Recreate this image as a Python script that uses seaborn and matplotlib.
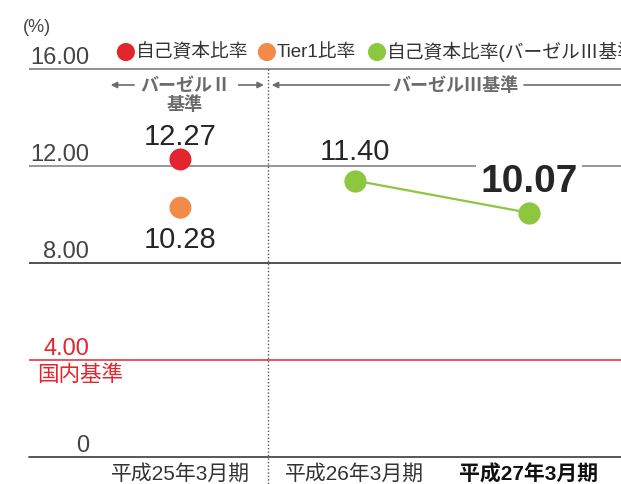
import numpy as np
import pandas as pd
import seaborn as sns
import matplotlib.pyplot as plt

# data
periods = ['平成25年3月期', '平成26年3月期', '平成27年3月期']
capital_ratio = [12.27, np.nan, np.nan]      # 自己資本比率
tier1_ratio = [10.28, np.nan, np.nan]        # Tier1比率
basel3_ratio = [np.nan, 11.40, 10.07]        # 自己資本比率(バーゼルⅢ基準)
yticks = [16, 12, 8, 4, 0]
ytick_labels = ['16.00', '12.00', '8.00', '4.00', '0']
domestic_standard = 4.00

RED = '#e3262e'
ORANGE = '#f28a48'
GREEN = '#8dc63f'
GRAY = '#6b6b6b'
TXT = '#262626'
CJK = ['Noto Sans CJK JP', 'DejaVu Sans']

sns.set_theme(style='white')
plt.rcParams['font.family'] = ['Liberation Sans', 'Noto Sans CJK JP', 'DejaVu Sans']

df = pd.DataFrame({'pos': np.arange(len(periods)), 'period': periods,
                   'capital': capital_ratio, 'tier1': tier1_ratio,
                   'basel3': basel3_ratio})

fig = plt.figure(figsize=(6.21, 4.84), dpi=100)
ax = fig.add_axes([29 / 621, 27 / 484, 592 / 621, 457 / 484])
ax.set_xlim(-0.869, 2.528)
ax.set_ylim(0, 457 / 24.25)
for s in ax.spines.values():
    s.set_visible(False)

# grid lines
grid_colors = {16: '#7d7d7d', 12: '#858585', 8: '#333333'}
for v, c in grid_colors.items():
    ax.axhline(v, color=c, lw=1.2, zorder=1)
ax.axhline(domestic_standard, color=RED, lw=1.1, zorder=1)
ax.axhline(0, color='#4a4a4a', lw=1.3, zorder=1, clip_on=False)

# y labels sitting above the lines
for v, lab in zip(yticks, ytick_labels):
    col = RED if v == domestic_standard else '#444444'
    ax.text(-0.525, v + 0.2, lab, ha='right', va='baseline', fontsize=17, color=col)
ax.text(-0.904, 17.73, '(%)', ha='left', va='center', fontsize=13, color='#444444',
        clip_on=False)
ax.text(-0.824, 3.38, '国内基準', ha='left', va='center', fontsize=15.5, color=RED)

# basel II / III divider
ax.plot([0.5, 0.5], [16, -1.12], ls=(0, (1, 1.5)), color='#555555', lw=1.0,
        clip_on=False, zorder=2)

# points
sns.scatterplot(data=df, x='pos', y='capital', color=RED, s=250, edgecolor='none',
                zorder=5, ax=ax)
sns.scatterplot(data=df, x='pos', y='tier1', color=ORANGE, s=250, edgecolor='none',
                zorder=5, ax=ax)
sns.lineplot(data=df.dropna(subset=['basel3']), x='pos', y='basel3', color=GREEN,
             lw=1.6, marker='o', markersize=16, markeredgewidth=0, zorder=5, ax=ax)

# value labels
ax.text(0, 12.87, f'{capital_ratio[0]:.2f}', ha='center', va='baseline', fontsize=21,
        color=TXT)
ax.text(0, 8.62, f'{tier1_ratio[0]:.2f}', ha='center', va='baseline', fontsize=21,
        color=TXT)
ax.text(1, 12.25, f'{basel3_ratio[1]:.2f}', ha='center', va='baseline', fontsize=21,
        color=TXT)
ax.text(2.0, 10.93, f'{basel3_ratio[2]:.2f}', ha='center', va='baseline', fontsize=28,
        fontweight='bold', color=TXT, zorder=3,
        bbox=dict(facecolor='white', edgecolor='none', pad=3))

# legend row
leg_y = 16.70
legend_items = [(-0.313, RED, '自己資本比率'), (0.496, ORANGE, 'Tier1比率'),
                (1.128, GREEN, '自己資本比率(バーゼルⅢ基準)')]
for lx, c, lab in legend_items:
    ax.scatter([lx], [leg_y], s=170, color=c, edgecolor='none', zorder=5)
    ax.text(lx + 0.057, leg_y, lab, ha='left', va='center', fontsize=13.5,
            color='#333333')

# basel annotations
ann_y = 15.34
arrow = dict(arrowstyle='-|>', color=GRAY, lw=1.2, mutation_scale=9)
ax.annotate('', xy=(-0.416, ann_y), xytext=(-0.250, ann_y), arrowprops=arrow)
ax.text(0.029, ann_y, 'バーゼルⅡ', ha='center', va='center', fontsize=13,
        fontweight='bold', color=GRAY, family=CJK)
ax.text(0.026, 14.52, '基準', ha='center', va='center', fontsize=13,
        fontweight='bold', color=GRAY, family=CJK)
ax.annotate('', xy=(0.495, ann_y), xytext=(0.318, ann_y), arrowprops=arrow)
ax.annotate('', xy=(0.508, ann_y), xytext=(1.214, ann_y), arrowprops=arrow)
ax.text(1.578, ann_y, 'バーゼルⅢ基準', ha='center', va='center', fontsize=13,
        fontweight='bold', color=GRAY, family=CJK)
ax.plot([1.971, 2.528], [ann_y, ann_y], color=GRAY, lw=1.2)

# x labels
ax.set_xticks(df['pos'], periods)
ax.set_yticks([])
ax.tick_params(axis='x', length=0, pad=5, labelsize=15, labelcolor='#333333')
ax.get_xticklabels()[-1].set_fontweight('bold')
ax.get_xticklabels()[-1].set_color('#111111')
ax.set_xlabel('')
ax.set_ylabel('')

fig.savefig('out.png', dpi=100)
